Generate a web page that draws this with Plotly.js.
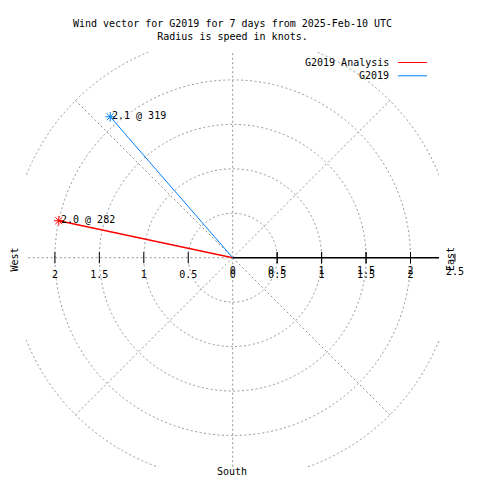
<!DOCTYPE html>
<html>
<head>
<meta charset="utf-8">
<script src="https://cdn.plot.ly/plotly-3.0.1.min.js"></script>
<style>html,body{margin:0;padding:0;background:#fff;}#chart{width:480px;height:480px;}</style>
</head>
<body>
<div id="chart"></div>
<script>
// ---- data ----
const seriesNames = ['G2019 Analysis', 'G2019'];
const speeds = [2.0, 2.1];          // knots
const directions = [282, 319];      // degrees, clockwise from north
const ringRadii = [0.5, 1, 1.5, 2, 2.5];
const spokeAngles = [0, 45, 90, 135, 180, 225, 270, 315];
const xTickVals = [-2, -1.5, -1, -0.5, 0, 0.5, 1, 1.5, 2];
const xTickText = ['2', '1.5', '1', '0.5', '0', '0.5', '1', '1.5', '2'];
const rTickVals = [0, 0.5, 1, 1.5, 2, 2.5];
const rTickText = ['0', '0.5', '1', '1.5', '2', '2.5'];
const rMax = 2.5;

// ---- styles ----
const seriesColors = ['#ff0000', '#0080ff'];
const seriesWidths = [1.5, 1];
const FONT = {family: 'DejaVu Sans Mono, Liberation Mono, monospace', size: 10, color: '#000'};
const GRID = {color: '#969696', width: 1, dash: '2px,2.5px'};
const UNIT_PX = 88.9;               // pixels per knot
const px = p => p / UNIT_PX;

// layout geometry
const W = 480, H = 480;
const M = {l: 26, r: 41, t: 52, b: 13};
const cx = 232.7, cy = 257.7; // centre pixel
const plotW = W - M.l - M.r, plotH = H - M.t - M.b;
const xRange = [px(M.l - cx), px(W - M.r - cx)];
const yRange = [-px(H - M.b - cy), px(cy - M.t)];
const paperX = p => (p - M.l) / plotW;
const paperY = p => (H - M.b - p) / plotH;
const dataToPaperX = v => (v - xRange[0]) / (xRange[1] - xRange[0]);
const dataToPaperY = v => (v - yRange[0]) / (yRange[1] - yRange[0]);
const inX = v => v >= xRange[0] && v <= xRange[1];

const rad = d => d * Math.PI / 180;
const traces = [];
const shapes = [];
const annotations = [];

// grid rings and spokes
ringRadii.forEach(r => shapes.push({type: 'circle', xref: 'x', yref: 'y', x0: -r, x1: r, y0: -r, y1: r, line: GRID, layer: 'below'}));
spokeAngles.forEach(a => shapes.push({type: 'line', xref: 'x', yref: 'y', x0: 0, y0: 0,
  x1: rMax * Math.sin(rad(a)), y1: rMax * Math.cos(rad(a)), line: GRID, layer: 'below'}));

// r axis (solid black) from 0 to rMax toward east
traces.push({x: [0, rMax], y: [0, 0], mode: 'lines', line: {color: '#000', width: 1.5}, hoverinfo: 'skip', showlegend: false});

// tick marks
const xTickMarks = xTickVals.filter(v => v !== 0);
traces.push({x: xTickMarks, y: xTickMarks.map(() => 0), mode: 'markers', cliponaxis: false,
  marker: {symbol: 'line-ns', size: 8, color: '#000', line: {color: '#000', width: 1}}, hoverinfo: 'skip', showlegend: false});
const rTickIn = rTickVals.filter(v => v !== 0 && inX(v));
traces.push({x: rTickIn, y: rTickIn.map(() => 0), mode: 'markers', cliponaxis: false,
  marker: {symbol: 'line-ns', size: 8, color: '#000', line: {color: '#000', width: 1}}, hoverinfo: 'skip', showlegend: false});

// tick labels (two overlapping sets like the original)
traces.push({x: xTickVals, y: xTickVals.map(() => -px(17.5)), mode: 'text', text: xTickText, textposition: 'middle center',
  textfont: FONT, cliponaxis: false, hoverinfo: 'skip', showlegend: false});
const rLabIn = rTickVals.map((v, i) => [v, rTickText[i]]).filter(p => inX(p[0]));
traces.push({x: rLabIn.map(p => p[0]), y: rLabIn.map(() => -px(13.5)), mode: 'text', text: rLabIn.map(p => p[1]),
  textposition: 'middle center', textfont: FONT, cliponaxis: false, hoverinfo: 'skip', showlegend: false});
// r ticks beyond the plotted x range (the outer 2.5 tic) are placed in paper space from the same scale
rTickVals.forEach((v, i) => {
  if (inX(v)) return;
  const xp = dataToPaperX(v);
  annotations.push({xref: 'paper', yref: 'paper', x: xp, y: dataToPaperY(-px(13.5)), text: rTickText[i],
    showarrow: false, font: FONT, xanchor: 'center', yanchor: 'middle'});
  shapes.push({type: 'line', xref: 'paper', yref: 'paper', x0: xp, x1: xp,
    y0: dataToPaperY(px(4)), y1: dataToPaperY(-px(4)), line: {color: '#000', width: 1}});
});

// wind vectors
speeds.forEach((s, i) => {
  const xe = s * Math.sin(rad(directions[i]));
  const ye = s * Math.cos(rad(directions[i]));
  traces.push({x: [0, xe], y: [0, ye], mode: 'lines', name: seriesNames[i],
    line: {color: seriesColors[i], width: seriesWidths[i]}, showlegend: false});
  traces.push({x: [xe], y: [ye], mode: 'markers', cliponaxis: false,
    marker: {symbol: 'asterisk-open', size: 8, color: seriesColors[i], line: {color: seriesColors[i], width: 1}}, showlegend: false});
  annotations.push({xref: 'x', yref: 'y', x: xe, y: ye, text: s.toFixed(1) + ' @ ' + directions[i],
    showarrow: false, font: FONT, xanchor: 'left', yanchor: 'middle', xshift: 0, yshift: 1});
});

// legend (text left, sample line right)
seriesNames.forEach((n, i) => {
  const yPix = 62.5 + i * 13.3;
  annotations.push({xref: 'paper', yref: 'paper', x: paperX(391), y: paperY(yPix), xanchor: 'right', yanchor: 'middle',
    text: n, showarrow: false, font: FONT});
  shapes.push({type: 'line', xref: 'paper', yref: 'paper', x0: paperX(398), x1: paperX(427),
    y0: paperY(yPix), y1: paperY(yPix), line: {color: seriesColors[i], width: 1}});
});
annotations.push({xref: 'paper', yref: 'paper', x: paperX(14), y: paperY(259.5), text: 'West', textangle: -90,
  showarrow: false, font: FONT, xanchor: 'center', yanchor: 'middle'});
annotations.push({xref: 'paper', yref: 'paper', x: paperX(450), y: paperY(259), text: 'East', textangle: -90,
  showarrow: false, font: FONT, xanchor: 'center', yanchor: 'middle'});
annotations.push({xref: 'paper', yref: 'paper', x: paperX(232), y: paperY(471), text: 'South',
  showarrow: false, font: FONT, xanchor: 'center', yanchor: 'middle'});

const axisCommon = {showgrid: false, zeroline: false, showticklabels: false, showline: false, ticks: '', fixedrange: true};
const layout = {
  width: W, height: H, margin: {l: M.l, r: M.r, t: M.t, b: M.b, pad: 0},
  paper_bgcolor: '#fff', plot_bgcolor: '#fff', showlegend: false,
  font: FONT,
  title: {text: 'Wind vector for G2019 for 7 days from 2025-Feb-10 UTC<br>Radius is speed in knots.',
    font: FONT, xref: 'paper', x: 0.5, xanchor: 'center', yref: 'container', y: 1 - 26.7 / H, yanchor: 'middle'},
  xaxis: Object.assign({range: xRange}, axisCommon),
  yaxis: Object.assign({range: yRange}, axisCommon),
  shapes: shapes, annotations: annotations
};
Plotly.newPlot('chart', traces, layout, {staticPlot: true, displayModeBar: false});
</script>
</body>
</html>
